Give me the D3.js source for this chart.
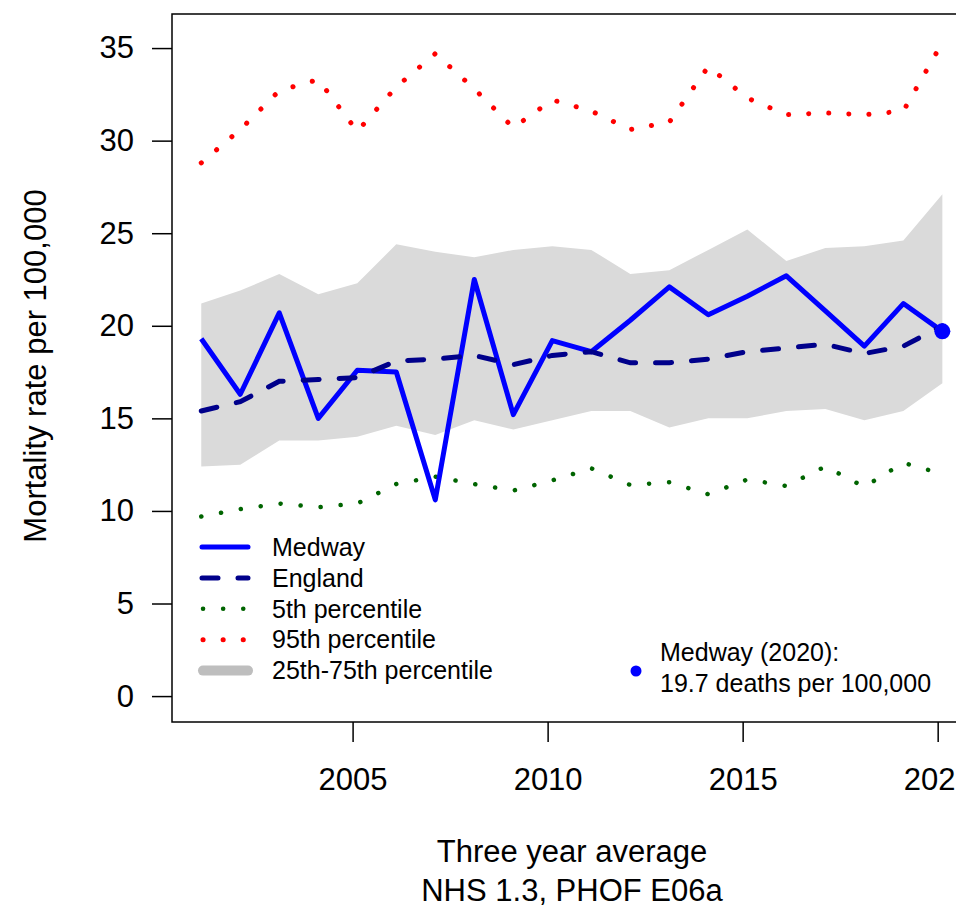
<!DOCTYPE html>
<html>
<head>
<meta charset="utf-8">
<script src="https://cdn.jsdelivr.net/npm/d3@7"></script>
<style>
  html, body { margin: 0; padding: 0; background: #fff; }
  svg { display: block; }
  text { font-family: "Liberation Sans", Arial, Helvetica, sans-serif; fill: #000; }
</style>
</head>
<body>
<svg id="chart" width="956" height="909"></svg>
<script>
// ---- data ----
const years = [2001, 2002, 2003, 2004, 2005, 2006, 2007, 2008, 2009, 2010,
               2011, 2012, 2013, 2014, 2015, 2016, 2017, 2018, 2019, 2020];
const medway = [19.3, 16.3, 20.7, 15.0, 17.6, 17.5, 10.6, 22.5, 15.2, 19.2,
                18.6, 20.3, 22.1, 20.6, 21.6, 22.7, 20.8, 18.9, 21.2, 19.7];
const england = [15.4, 15.9, 17.0, 17.1, 17.2, 18.1, 18.2, 18.4, 17.9, 18.4,
                 18.6, 18.0, 18.0, 18.2, 18.6, 18.8, 19.0, 18.5, 18.9, 20.0];
const p25 = [12.4, 12.5, 13.8, 13.8, 14.0, 14.6, 14.1, 14.9, 14.4, 14.9,
             15.4, 15.4, 14.5, 15.0, 15.0, 15.4, 15.5, 14.9, 15.4, 16.9];
const p75 = [21.2, 21.9, 22.8, 21.7, 22.3, 24.4, 24.0, 23.7, 24.1, 24.3,
             24.1, 22.8, 23.0, 24.1, 25.2, 23.5, 24.2, 24.3, 24.6, 27.1];
const p5 = [9.7, 10.1, 10.4, 10.2, 10.4, 11.45, 11.85, 11.45, 11.1, 11.65,
            12.3, 11.4, 11.55, 10.9, 11.7, 11.35, 12.4, 11.3, 12.6, 12.0];
const p95 = [28.8, 30.6, 32.7, 33.3, 30.5, 32.9, 34.7, 32.8, 30.7, 32.2,
             31.6, 30.6, 31.0, 34.0, 32.3, 31.4, 31.5, 31.4, 31.6, 35.3];
const xTicks = [2005, 2010, 2015, 2020];
const yTicks = [0, 5, 10, 15, 20, 25, 30, 35];
const legendLabels = ["Medway", "England", "5th percentile", "95th percentile", "25th-75th percentile"];
const latestLabel = ["Medway (2020):", "19.7 deaths per 100,000"];
const xTitle = ["Three year average", "NHS 1.3, PHOF E06a"];
const yTitle = "Mortality rate per 100,000";
const xOffset = 0.12; // points sit slightly after the year mark

// ---- layout ----
const plotLeft = 172, plotRight = 972, plotTop = 14, plotBottom = 722;
const svg = d3.select("#chart");
const x = d3.scaleLinear().domain([2000.37, 2020.88]).range([plotLeft, plotRight]);
const y = d3.scaleLinear().domain([-1.40, 36.84]).range([plotBottom, plotTop]);

const rows = years.map((yr, i) => ({
  x: yr + xOffset, medway: medway[i], england: england[i],
  p25: p25[i], p75: p75[i], p5: p5[i], p95: p95[i]
}));

// band
svg.append("path")
  .datum(rows)
  .attr("fill", "#dadada")
  .attr("d", d3.area().x(d => x(d.x)).y0(d => y(d.p25)).y1(d => y(d.p75)));

function lineFor(key) { return d3.line().x(d => x(d.x)).y(d => y(d[key])); }

// percentiles
svg.append("path").datum(rows)
  .attr("fill", "none").attr("stroke", "#006400").attr("stroke-width", 4.5)
  .attr("stroke-linecap", "round").attr("stroke-dasharray", "0.1,20")
  .attr("d", lineFor("p5"));
svg.append("path").datum(rows)
  .attr("fill", "none").attr("stroke", "#ff0000").attr("stroke-width", 5)
  .attr("stroke-linecap", "round").attr("stroke-dasharray", "0.1,20")
  .attr("d", lineFor("p95"));

// Medway
svg.append("path").datum(rows)
  .attr("fill", "none").attr("stroke", "#0000ff").attr("stroke-width", 5)
  .attr("stroke-linejoin", "round")
  .attr("d", lineFor("medway"));

// England
svg.append("path").datum(rows)
  .attr("fill", "none").attr("stroke", "#00008b").attr("stroke-width", 5)
  .attr("stroke-linecap", "round").attr("stroke-dasharray", "16,20")
  .attr("d", lineFor("england"));

// latest point
const last = rows[rows.length - 1];
svg.append("circle")
  .attr("cx", x(last.x)).attr("cy", y(last.medway)).attr("r", 8)
  .attr("fill", "#0000ff");

// axes
const xAxis = svg.append("g")
  .attr("transform", `translate(0,${plotBottom})`)
  .call(d3.axisBottom(x).tickValues(xTicks).tickSize(20).tickSizeOuter(0)
        .tickPadding(26).tickFormat(d3.format("d")));
xAxis.select(".domain").remove();
xAxis.selectAll(".tick line").attr("stroke", "#000").attr("stroke-width", 1.5);
xAxis.selectAll(".tick text").attr("font-size", 31).attr("fill", "#000")
  .style("font-family", '"Liberation Sans", Arial, sans-serif');

const yAxis = svg.append("g")
  .attr("transform", `translate(${plotLeft},0)`)
  .call(d3.axisLeft(y).tickValues(yTicks).tickSize(20).tickSizeOuter(0)
        .tickPadding(18));
yAxis.select(".domain").remove();
yAxis.selectAll(".tick line").attr("stroke", "#000").attr("stroke-width", 1.5);
yAxis.selectAll(".tick text").attr("font-size", 31).attr("fill", "#000")
  .style("font-family", '"Liberation Sans", Arial, sans-serif');

// box
svg.append("rect")
  .attr("x", plotLeft).attr("y", plotTop)
  .attr("width", plotRight - plotLeft).attr("height", plotBottom - plotTop)
  .attr("fill", "none").attr("stroke", "#000").attr("stroke-width", 1.5);

// titles
svg.append("text").attr("x", 572).attr("y", 861.5)
  .attr("text-anchor", "middle").attr("font-size", 31).text(xTitle[0]);
svg.append("text").attr("x", 572).attr("y", 901)
  .attr("text-anchor", "middle").attr("font-size", 31).text(xTitle[1]);
svg.append("text")
  .attr("transform", "translate(46,366) rotate(-90)")
  .attr("text-anchor", "middle").attr("font-size", 31).text(yTitle);

// legend
const lg = svg.append("g");
const legendY0 = 547, legendStep = 30.9;
const legendStyles = [
  { stroke: "#0000ff", width: 5, dash: null, x1: 202, x2: 248 },
  { stroke: "#00008b", width: 5, dash: "16,20", x1: 202, x2: 248 },
  { stroke: "#006400", width: 4.5, dash: "0.1,20", x1: 203, x2: 248 },
  { stroke: "#ff0000", width: 5, dash: "0.1,20", x1: 203, x2: 248 },
  { stroke: "#bebebe", width: 10, dash: null, x1: 203, x2: 248 }
];
legendLabels.forEach((lab, i) => {
  const cy = legendY0 + i * legendStep;
  const st = legendStyles[i];
  const ln = lg.append("line")
    .attr("x1", st.x1).attr("x2", st.x2).attr("y1", cy).attr("y2", cy)
    .attr("stroke", st.stroke).attr("stroke-width", st.width)
    .attr("stroke-linecap", "round");
  if (st.dash) ln.attr("stroke-dasharray", st.dash);
  lg.append("text").attr("x", 272).attr("y", cy).attr("dy", "0.35em")
    .attr("font-size", 25).text(lab);
});

// latest-value note
svg.append("circle").attr("cx", 636).attr("cy", 671).attr("r", 5.5).attr("fill", "#0000ff");
svg.append("text").attr("x", 660).attr("y", 652).attr("dy", "0.35em")
  .attr("font-size", 25).text(latestLabel[0]);
svg.append("text").attr("x", 660).attr("y", 683).attr("dy", "0.35em")
  .attr("font-size", 25).text(latestLabel[1]);
</script>
</body>
</html>
